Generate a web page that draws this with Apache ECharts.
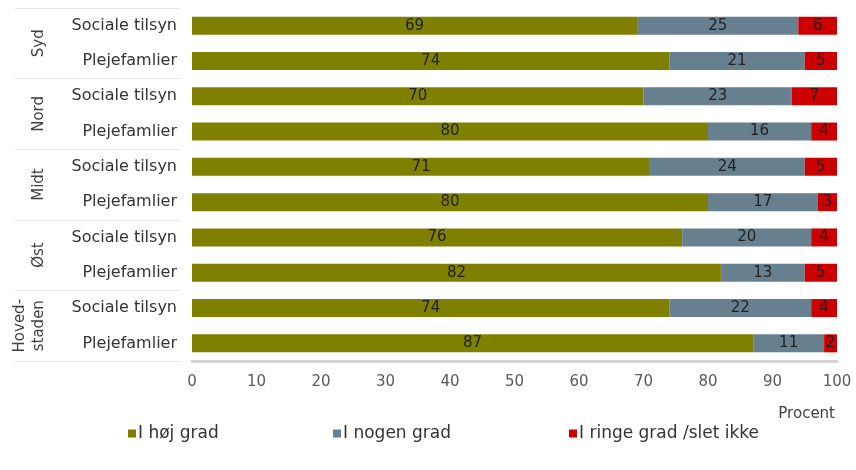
<!DOCTYPE html>
<html>
<head>
<meta charset="utf-8">
<script src="https://cdn.jsdelivr.net/npm/echarts@6/dist/echarts.min.js"></script>
<style>
  html, body { margin: 0; padding: 0; background: #fff; }
  #chart { width: 856px; height: 470px; }
</style>
</head>
<body>
<div id="chart"></div>
<script>
// Regions (outer grouping) and the two respondent types within each region
const regions = ['Syd', 'Nord', 'Midt', 'Øst', 'Hoved-\nstaden'];
const rows = [
  'Sociale tilsyn', 'Plejefamlier',
  'Sociale tilsyn', 'Plejefamlier',
  'Sociale tilsyn', 'Plejefamlier',
  'Sociale tilsyn', 'Plejefamlier',
  'Sociale tilsyn', 'Plejefamlier'
];
const seriesNames = ['I høj grad', 'I nogen grad', 'I ringe grad /slet ikke'];

// Percentages per row (same order as rows)
const hoejGrad   = [69, 74, 70, 80, 71, 80, 76, 82, 74, 87];
const nogenGrad  = [25, 21, 23, 16, 24, 17, 20, 13, 22, 11];
const ringeGrad  = [6, 5, 7, 4, 5, 3, 4, 5, 4, 2];

const xTicks = [0, 10, 20, 30, 40, 50, 60, 70, 80, 90, 100];

const colors = ['#7f7f00', '#66808f', '#cc0000'];
const FONT = 'DejaVu Sans';

const chart = echarts.init(document.getElementById('chart'), null, { renderer: 'canvas' });

const values = [hoejGrad, nogenGrad, ringeGrad];

const series = seriesNames.map((name, i) => ({
  name: name,
  type: 'bar',
  stack: 'total',
  yAxisIndex: 0,
  barWidth: 18,
  itemStyle: { color: colors[i] },
  label: {
    show: true,
    position: 'inside',
    color: '#222',
    fontFamily: FONT,
    fontSize: 15
  },
  emphasis: { disabled: true },
  data: values[i]
}));

const legendLefts = [123, 328, 564];

chart.setOption({
  animation: false,
  textStyle: { fontFamily: FONT },
  grid: { left: 192, right: 19, top: 8, bottom: 109 },
  legend: seriesNames.map((n, i) => ({
    data: [n],
    left: legendLefts[i],
    top: 420,
    itemWidth: 8,
    itemHeight: 8,
    itemGap: 4,
    icon: 'rect',
    textStyle: { fontFamily: FONT, fontSize: 17, color: '#333', padding: [0, 0, 0, -3] },
    selectedMode: false
  })),
  xAxis: {
    type: 'value',
    min: 0,
    max: 100,
    interval: 10,
    name: 'Procent',
    nameLocation: 'end',
    nameGap: -2,
    nameTextStyle: {
      fontFamily: FONT, fontSize: 15, color: '#404040',
      align: 'right', verticalAlign: 'top', padding: [46, 0, 0, 0]
    },
    axisLine: { show: true, lineStyle: { color: '#d4d4d4', width: 3 } },
    axisTick: { show: false },
    splitLine: { show: false },
    axisLabel: {
      fontFamily: FONT, fontSize: 15, color: '#595959', margin: 14,
      formatter: v => (xTicks.indexOf(v) >= 0 ? String(v) : '')
    }
  },
  yAxis: [
    {
      type: 'category',
      data: rows,
      inverse: true,
      axisLine: { show: false },
      axisTick: { show: false },
      axisLabel: { fontFamily: FONT, fontSize: 16, color: '#333', margin: 15 }
    },
    {
      type: 'category',
      data: regions,
      inverse: true,
      position: 'left',
      offset: 12,
      axisLine: { show: false },
      axisTick: { show: true, length: 165, lineStyle: { color: '#e6e6e6', width: 1 } },
      axisLabel: {
        rotate: 90,
        fontFamily: FONT, fontSize: 15, color: '#404040',
        margin: 131, lineHeight: 19
      }
    }
  ],
  series: series
});
</script>
</body>
</html>
